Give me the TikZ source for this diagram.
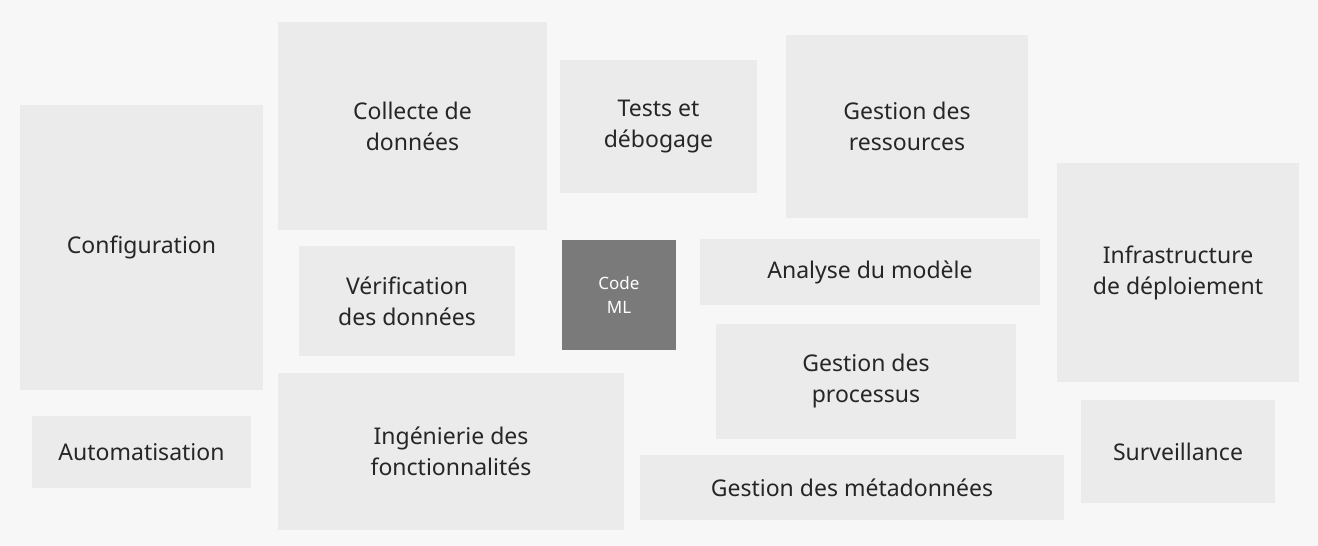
\documentclass[tikz,border=0pt]{standalone}
\usepackage{fontspec}
\setmainfont{Noto Sans}
\begin{document}
\begin{tikzpicture}[x=1pt,y=-1pt,
  bx/.style={fill=boxc,draw=none,align=center,text=black!85,font=\fontsize{23}{31}\selectfont},
  dk/.style={fill=darkc,draw=none,align=center,text=white,font=\fontsize{17}{24}\selectfont}]
\definecolor{bgc}{HTML}{F7F7F7}
\definecolor{boxc}{HTML}{EBEBEB}
\definecolor{darkc}{HTML}{7A7A7A}
\fill[bgc] (0,0) rectangle (1318,546);
\useasboundingbox (0,0) rectangle (1318,546);
\newcommand{\bx}[7][bx]{\fill[#1/.try] (#3,#4) rectangle (#5,#6);
  \node[#1,fill=none] (#2) at ({(#3+#5)/2},{(#4+#6)/2}) {#7};}
\bx{conf}{20}{105}{263}{390}{Configuration}
\bx{auto}{32}{416}{251}{488}{Automatisation}
\bx{coll}{278}{22}{547}{230}{Collecte de\\données}
\bx{test}{560}{60}{757}{193}{Tests et\\débogage}
\bx{ress}{786}{35}{1028}{218}{Gestion des\\ressources}
\bx{infra}{1057}{163}{1299}{382}{Infrastructure\\de déploiement}
\bx{verif}{299}{246}{515}{356}{Vérification\\des données}
\bx[dk]{code}{562}{240}{676}{350}{Code\\ML}
\bx{ana}{700}{239}{1040}{305}{Analyse du modèle}
\bx{proc}{716}{324}{1016}{439}{Gestion des\\processus}
\bx{ing}{278}{373}{624}{530}{Ingénierie des\\fonctionnalités}
\bx{meta}{640}{455}{1064}{520}{Gestion des métadonnées}
\bx{surv}{1081}{400}{1275}{503}{Surveillance}
\end{tikzpicture}
\end{document}
